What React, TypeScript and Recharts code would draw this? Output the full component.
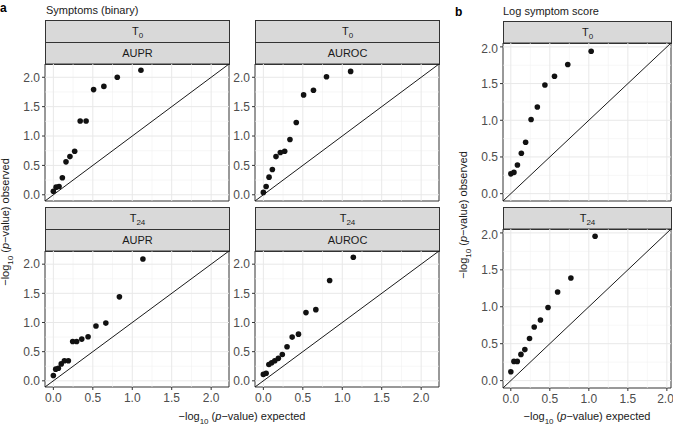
import React from 'react';
import {
    ScatterChart,
    Scatter,
    XAxis,
    YAxis,
    ReferenceLine,
    ReferenceArea,
} from 'recharts';

const FONT = '"Liberation Sans", Arial, Helvetica, sans-serif';

// tick and grid values shared by all facets
const majorTicks = [0, 0.5, 1, 1.5, 2];
const minorTicks = [0.25, 0.75, 1.25, 1.75];

// panel a: Symptoms (binary)
const aT0AuprX = [0, 0.035, 0.072, 0.114, 0.16, 0.21, 0.27, 0.34, 0.415, 0.51, 0.64, 0.81, 1.11];
const aT0AuprY = [0.06, 0.13, 0.14, 0.29, 0.56, 0.65, 0.74, 1.255, 1.255, 1.79, 1.845, 2.0, 2.12];

const aT0AurocX = [0, 0.035, 0.072, 0.114, 0.16, 0.215, 0.27, 0.337, 0.417, 0.51, 0.635, 0.8, 1.106];
const aT0AurocY = [0.04, 0.14, 0.3, 0.43, 0.65, 0.72, 0.74, 0.94, 1.23, 1.7, 1.78, 2.01, 2.1];

const aT24AuprX = [0, 0.03, 0.063, 0.1, 0.14, 0.19, 0.245, 0.295, 0.36, 0.44, 0.54, 0.665, 0.837, 1.135];
const aT24AuprY = [0.09, 0.2, 0.215, 0.29, 0.345, 0.345, 0.675, 0.675, 0.715, 0.755, 0.94, 0.99, 1.44, 2.09];

const aT24AurocX = [0, 0.035, 0.07, 0.105, 0.145, 0.19, 0.24, 0.3, 0.365, 0.445, 0.54, 0.665, 0.84, 1.14];
const aT24AurocY = [0.11, 0.13, 0.28, 0.31, 0.345, 0.385, 0.45, 0.585, 0.75, 0.8, 1.17, 1.22, 1.72, 2.12];

// panel b: Log symptom score
const bT0X = [0, 0.04, 0.085, 0.135, 0.19, 0.26, 0.34, 0.437, 0.56, 0.73, 1.03];
const bT0Y = [0.27, 0.29, 0.39, 0.55, 0.7, 1.01, 1.18, 1.48, 1.6, 1.76, 1.94];

const bT24X = [0, 0.04, 0.083, 0.13, 0.18, 0.24, 0.3, 0.38, 0.477, 0.6, 0.77, 1.08];
const bT24Y = [0.12, 0.26, 0.26, 0.355, 0.42, 0.57, 0.725, 0.82, 0.99, 1.2, 1.39, 1.955];

const aDomain: [number, number] = [-0.106, 2.226];
const bDomain: [number, number] = [-0.1, 2.053];

const STRIP_H = 22;
const Y_W = 40;
const PAD = 2;

const T0 = <span>T<sub style={{ fontSize: 8 }}>0</sub></span>;
const T24 = <span>T<sub style={{ fontSize: 8 }}>24</sub></span>;

const Dot = (props: any) => <circle cx={props.cx} cy={props.cy} r={2.8} fill="#111" />;

interface FacetProps {
    x: number;
    y: number;
    w: number;
    h: number;
    xs: number[];
    ys: number[];
    domain: [number, number];
    strips: React.ReactNode[];
    showX?: boolean;
}

function Facet({ x, y, w, h, xs, ys, domain, strips, showX }: FacetProps) {
    const data = xs.map((v, i) => ({ x: v, y: ys[i] }));
    const xH = 22;
    const tick = { fill: '#4d4d4d', fontSize: 12, fontFamily: FONT };

    return (
        <>
            {strips.map((s, i) => (
                <div
                    key={i}
                    style={{
                        position: 'absolute',
                        left: x,
                        top: y - STRIP_H * (strips.length - i),
                        width: w + 1,
                        height: STRIP_H + 1,
                        boxSizing: 'border-box',
                        background: '#d9d9d9',
                        border: '1px solid #333',
                        fontSize: 11,
                        color: '#1a1a1a',
                        textAlign: 'center',
                        lineHeight: `${STRIP_H - 1}px`,
                    }}
                >
                    {s}
                </div>
            ))}
            <div style={{ position: 'absolute', left: x - Y_W, top: y - PAD }}>
                <ScatterChart
                    width={Y_W + w + PAD}
                    height={PAD + h + (showX ? xH : PAD)}
                    margin={{ top: PAD, right: PAD, bottom: showX ? 0 : PAD, left: 0 }}
                >
                    <XAxis
                        type="number"
                        dataKey="x"
                        domain={domain}
                        allowDataOverflow
                        ticks={majorTicks}
                        tickFormatter={(v: number) => v.toFixed(1)}
                        hide={!showX}
                        height={xH}
                        tick={tick}
                        tickSize={3}
                        tickMargin={3}
                        tickLine={{ stroke: '#333' }}
                        axisLine={false}
                    />
                    <YAxis
                        type="number"
                        dataKey="y"
                        domain={domain}
                        allowDataOverflow
                        ticks={majorTicks}
                        tickFormatter={(v: number) => v.toFixed(1)}
                        width={Y_W}
                        tick={tick}
                        tickSize={3}
                        tickMargin={2}
                        tickLine={{ stroke: '#333' }}
                        axisLine={false}
                    />
                    {minorTicks.map(v => (
                        <ReferenceLine key={'mx' + v} x={v} stroke="#f2f2f2" strokeWidth={0.6} />
                    ))}
                    {minorTicks.map(v => (
                        <ReferenceLine key={'my' + v} y={v} stroke="#f2f2f2" strokeWidth={0.6} />
                    ))}
                    {majorTicks.map(v => (
                        <ReferenceLine key={'Mx' + v} x={v} stroke="#e8e8e8" strokeWidth={1} />
                    ))}
                    {majorTicks.map(v => (
                        <ReferenceLine key={'My' + v} y={v} stroke="#e8e8e8" strokeWidth={1} />
                    ))}
                    <ReferenceLine
                        segment={[{ x: domain[0], y: domain[0] }, { x: domain[1], y: domain[1] }]}
                        stroke="#1a1a1a"
                        strokeWidth={1}
                        ifOverflow="hidden"
                    />
                    <Scatter data={data} shape={Dot} isAnimationActive={false} />
                    <ReferenceArea
                        x1={domain[0]}
                        x2={domain[1]}
                        y1={domain[0]}
                        y2={domain[1]}
                        fill="none"
                        fillOpacity={0}
                        stroke="#333"
                        strokeWidth={1}
                    />
                </ScatterChart>
            </div>
        </>
    );
}

const XTitle = () => (
    <span>
        −log<sub style={{ fontSize: 8 }}>10</sub> (<i>p</i>−value) expected
    </span>
);

const YTitle = () => (
    <span>
        −log<sub style={{ fontSize: 8 }}>10</sub> (<i>p</i>−value) observed
    </span>
);

export default function App() {
    const text: React.CSSProperties = {
        position: 'absolute',
        fontSize: 11,
        color: '#1a1a1a',
        whiteSpace: 'nowrap',
    };
    const rotated = (cx: number, cy: number): React.CSSProperties => ({
        ...text,
        left: cx,
        top: cy,
        transform: 'translate(-50%, -50%) rotate(-90deg)',
    });
    const centered = (cx: number, cy: number): React.CSSProperties => ({
        ...text,
        left: cx,
        top: cy,
        transform: 'translate(-50%, -50%)',
    });

    return (
        <div
            style={{
                position: 'absolute',
                left: 0,
                top: 0,
                width: 675,
                height: 426,
                background: '#fff',
                fontFamily: FONT,
                overflow: 'hidden',
            }}
        >
            <div style={{ ...text, left: 0, top: 1, fontSize: 12, fontWeight: 'bold', color: '#000' }}>a</div>
            <div style={{ ...text, left: 46, top: 4 }}>Symptoms (binary)</div>
            <div style={{ ...text, left: 455, top: 5, fontSize: 12, fontWeight: 'bold', color: '#000' }}>b</div>
            <div style={{ ...text, left: 503, top: 5 }}>Log symptom score</div>

            <Facet x={45} y={64} w={184} h={137} xs={aT0AuprX} ys={aT0AuprY} domain={aDomain} strips={[T0, 'AUPR']} />
            <Facet x={255} y={64} w={184} h={137} xs={aT0AurocX} ys={aT0AurocY} domain={aDomain} strips={[T0, 'AUROC']} />
            <Facet x={45} y={251} w={184} h={136} xs={aT24AuprX} ys={aT24AuprY} domain={aDomain} strips={[T24, 'AUPR']} showX />
            <Facet x={255} y={251} w={184} h={136} xs={aT24AurocX} ys={aT24AurocY} domain={aDomain} strips={[T24, 'AUROC']} showX />

            <Facet x={503} y={43} w={168} h={158} xs={bT0X} ys={bT0Y} domain={bDomain} strips={[T0]} />
            <Facet x={503} y={229} w={168} h={159} xs={bT24X} ys={bT24Y} domain={bDomain} strips={[T24]} showX />

            <div style={rotated(7, 222)}><YTitle /></div>
            <div style={rotated(465, 215)}><YTitle /></div>
            <div style={centered(242, 418)}><XTitle /></div>
            <div style={centered(587, 418)}><XTitle /></div>
        </div>
    );
}
